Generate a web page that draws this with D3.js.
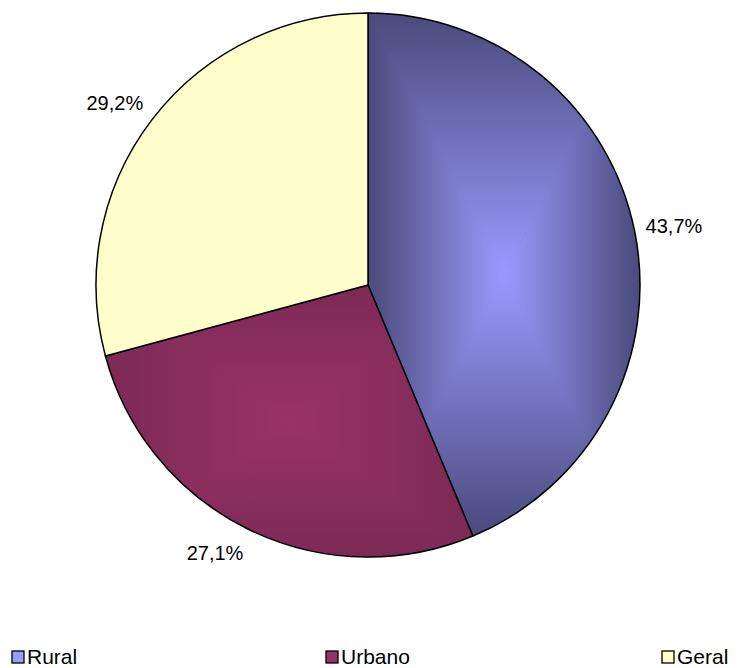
<!DOCTYPE html>
<html>
<head>
<meta charset="utf-8">
<script src="https://cdn.jsdelivr.net/npm/d3@7/dist/d3.min.js"></script>
<style>
  html, body { margin: 0; padding: 0; background: #fff; }
  svg { display: block; }
</style>
</head>
<body>
<svg id="chart" width="741" height="668"></svg>
<script>
const categories = ["Rural", "Urbano", "Geral"];
const values = [43.7, 27.1, 29.2];
const labels = ["43,7%", "27,1%", "29,2%"];
const centerColors = ["#9a9aff", "#993366", "#ffffcc"];
const edgeColors = ["#4a4a7c", "#7c2a55", "#ffffcc"];

const W = 741, H = 668;
const cx = 368, cy = 285, R = 272, labelGap = 11;
const font = "'Liberation Sans', Arial, sans-serif";

const svg = d3.select("#chart");
const defs = svg.append("defs");
const data = categories.map((c, i) => ({ name: c, value: values[i], label: labels[i], i }));

const pie = d3.pie().value(d => d.value).sort(null).startAngle(0).endAngle(2 * Math.PI);
const arcs = pie(data);
const arc = d3.arc().innerRadius(0).outerRadius(R);
const anchorArc = d3.arc().innerRadius(R + labelGap).outerRadius(R + labelGap);

const g = svg.append("g").attr("transform", `translate(${cx},${cy})`);

arcs.forEach((a, k) => {
  const d = arc(a);
  const tmp = g.append("path").attr("d", d).attr("fill", "none");
  const bb = tmp.node().getBBox();
  tmp.remove();
  const x0 = bb.x, y0 = bb.y, x1 = bb.x + bb.width, y1 = bb.y + bb.height;
  const mx = (x0 + x1) / 2, my = (y0 + y1) / 2;

  const clipId = "clip" + k;
  defs.append("clipPath").attr("id", clipId).append("path").attr("d", d);

  const grp = g.append("g").attr("clip-path", `url(#${clipId})`);
  grp.append("path").attr("d", d).attr("fill", edgeColors[k]);

  const mkGrad = (id, gx1, gy1, gx2, gy2) => {
    const lg = defs.append("linearGradient").attr("id", id)
      .attr("gradientUnits", "userSpaceOnUse")
      .attr("x1", gx1).attr("y1", gy1).attr("x2", gx2).attr("y2", gy2);
    lg.append("stop").attr("offset", "0").attr("stop-color", edgeColors[k]);
    lg.append("stop").attr("offset", "1").attr("stop-color", centerColors[k]);
    return id;
  };
  const tris = [
    { pts: [[x0, y0], [x1, y0], [mx, my]], g: [mx, y0, mx, my] },
    { pts: [[x0, y1], [x1, y1], [mx, my]], g: [mx, y1, mx, my] },
    { pts: [[x0, y0], [x0, y1], [mx, my]], g: [x0, my, mx, my] },
    { pts: [[x1, y0], [x1, y1], [mx, my]], g: [x1, my, mx, my] }
  ];
  tris.forEach((t, j) => {
    const id = mkGrad(`g${k}_${j}`, ...t.g);
    grp.append("polygon")
      .attr("points", t.pts.map(p => p.join(",")).join(" "))
      .attr("fill", `url(#${id})`)
      .attr("stroke", `url(#${id})`)
      .attr("stroke-width", 0.6);
  });

  g.append("path").attr("d", d)
    .attr("fill", "none")
    .attr("stroke", "#000")
    .attr("stroke-width", 1.5)
    .attr("stroke-linejoin", "round");
});

// labels: box placed outside the anchor point on the mid-angle
arcs.forEach(a => {
  const mid = (a.startAngle + a.endAngle) / 2;
  const s = Math.sin(mid), c = Math.cos(mid);
  const p = anchorArc.centroid(a);
  const t = g.append("text")
    .attr("text-anchor", "middle")
    .attr("dominant-baseline", "central")
    .attr("font-family", font)
    .attr("font-size", 20)
    .attr("fill", "#000")
    .text(a.data.label);
  const bb = t.node().getBBox();
  const hw = bb.width / 2, hh = 10.5;
  const fx = Math.sign(s) * Math.min(1, Math.abs(s) / 0.4);
  const fy = Math.max(-1, Math.min(1.4, -c * 1.5));
  t.attr("x", p[0] + hw * fx).attr("y", p[1] + hh * fy);
});

// legend
const legendX = [12, 326, 662];
const legend = svg.append("g");
data.forEach((d, i) => {
  const lg = legend.append("g").attr("transform", `translate(${legendX[i]},651)`);
  lg.append("rect").attr("x", 0).attr("y", 0).attr("width", 12).attr("height", 12)
    .attr("fill", centerColors[i]).attr("stroke", "#000").attr("stroke-width", 1.3);
  lg.append("text").attr("x", 15).attr("y", 12.5)
    .attr("font-family", font).attr("font-size", 21).attr("fill", "#000")
    .text(d.name);
});
</script>
</body>
</html>
